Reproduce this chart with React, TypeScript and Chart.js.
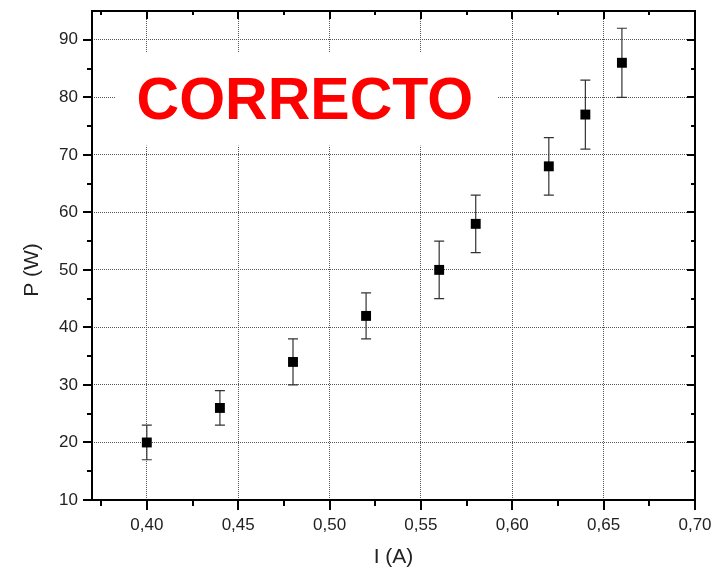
import React, { useEffect, useRef } from 'react';
import { Chart, registerables } from 'chart.js';
Chart.register(...registerables);

const currentA = [0.40, 0.44, 0.48, 0.52, 0.56, 0.58, 0.62, 0.64, 0.66];
const powerW = [20, 26, 34, 42, 50, 58, 68, 77, 86];
const errLow = [17, 23, 30, 38, 45, 53, 63, 71, 80];
const errHigh = [23, 29, 38, 46, 55, 63, 73, 83, 92];
const xTicks = [0.40, 0.45, 0.50, 0.55, 0.60, 0.65, 0.70];
const xMinor = [0.375, 0.425, 0.475, 0.525, 0.575, 0.625, 0.675];
const yTicks = [10, 20, 30, 40, 50, 60, 70, 80, 90];
const yMinor = [15, 25, 35, 45, 55, 65, 75, 85];
const xLabel = 'I (A)';
const yLabel = 'P (W)';
const stampText = 'CORRECTO';

const FONT = 'Arial, "Liberation Sans", sans-serif';

const decor = {
  id: 'decor',
  beforeDatasetsDraw(chart: any) {
    const { ctx, scales } = chart;
    const x = scales.x, y = scales.y;
    ctx.save();
    // white box behind stamp
    const bx0 = x.getPixelForValue(0.3826);
    const bx1 = x.getPixelForValue(0.592);
    const by0 = y.getPixelForValue(87.7);
    const by1 = y.getPixelForValue(71.6);
    ctx.fillStyle = '#ffffff';
    ctx.fillRect(bx0, by0, bx1 - bx0, by1 - by0);
    // stamp text
    ctx.fillStyle = '#ff0000';
    ctx.font = 'bold 59px ' + FONT;
    ctx.textAlign = 'center';
    ctx.textBaseline = 'alphabetic';
    ctx.fillText(stampText, x.getPixelForValue(0.4865), y.getPixelForValue(76.2));
    // error bars
    ctx.strokeStyle = '#333';
    ctx.lineWidth = 1.2;
    for (let i = 0; i < currentA.length; i++) {
      const px = x.getPixelForValue(currentA[i]);
      const pl = y.getPixelForValue(errLow[i]);
      const ph = y.getPixelForValue(errHigh[i]);
      ctx.beginPath();
      ctx.moveTo(px, pl);
      ctx.lineTo(px, ph);
      ctx.moveTo(px - 5, pl);
      ctx.lineTo(px + 5, pl);
      ctx.moveTo(px - 5, ph);
      ctx.lineTo(px + 5, ph);
      ctx.stroke();
    }
    ctx.restore();
  },
  afterDraw(chart: any) {
    const { ctx, chartArea: a, scales } = chart;
    const x = scales.x, y = scales.y;
    ctx.save();
    ctx.strokeStyle = '#000';
    ctx.lineWidth = 2;
    ctx.strokeRect(a.left, a.top, a.right - a.left, a.bottom - a.top);
    ctx.beginPath();
    const xt = (v: number, major: boolean) => {
      const p = Math.round(x.getPixelForValue(v));
      ctx.moveTo(p, a.bottom);
      ctx.lineTo(p, a.bottom + (major ? 10 : 6));
      ctx.moveTo(p, a.top);
      ctx.lineTo(p, a.top + (major ? 8 : 4));
    };
    const yt = (v: number, major: boolean) => {
      const p = Math.round(y.getPixelForValue(v));
      ctx.moveTo(a.left, p);
      ctx.lineTo(a.left - (major ? 9 : 5), p);
      ctx.moveTo(a.right, p);
      ctx.lineTo(a.right - (major ? 8 : 4), p);
    };
    xTicks.forEach(v => xt(v, true));
    xMinor.forEach(v => xt(v, false));
    yTicks.forEach(v => yt(v, true));
    yMinor.forEach(v => yt(v, false));
    ctx.stroke();
    // axis titles
    ctx.fillStyle = '#222';
    ctx.font = '21px ' + FONT;
    ctx.textAlign = 'center';
    ctx.textBaseline = 'middle';
    ctx.fillText(xLabel, (a.left + a.right) / 2, 557);
    ctx.translate(32, 270);
    ctx.rotate(-Math.PI / 2);
    ctx.fillText(yLabel, 0, 0);
    ctx.restore();
  },
};

const zeroPad = (s: any) => {
  s.paddingTop = 0;
  s.paddingBottom = 0;
  s.paddingLeft = 0;
  s.paddingRight = 0;
};

export default function App() {
  const ref = useRef<HTMLCanvasElement | null>(null);
  useEffect(() => {
    if (!ref.current) return;
    const chart = new Chart(ref.current, {
      type: 'scatter',
      data: {
        datasets: [
          {
            data: currentA.map((v, i) => ({ x: v, y: powerW[i] })),
            pointStyle: 'rect',
            pointRadius: 7,
            pointHoverRadius: 7,
            backgroundColor: '#000',
            borderColor: '#000',
            borderWidth: 0,
          },
        ],
      },
      options: {
        animation: false,
        responsive: false,
        devicePixelRatio: 1,
        layout: { padding: { top: 11, right: 19, left: 0, bottom: 0 } },
        plugins: { legend: { display: false }, tooltip: { enabled: false } },
        scales: {
          x: {
            type: 'linear',
            min: 0.37,
            max: 0.70,
            afterBuildTicks: (s: any) => { s.ticks = xTicks.map(v => ({ value: v })); },
            afterFit: (s: any) => { s.height = 71; zeroPad(s); },
            grid: { color: '#555', lineWidth: 1, drawTicks: false },
            border: { display: false, dash: [1, 1] },
            ticks: {
              padding: 15,
              color: '#222',
              font: { family: FONT, size: 17 },
              callback: (v: any) => Number(v).toFixed(2).replace('.', ','),
              maxRotation: 0,
            },
          },
          y: {
            type: 'linear',
            min: 10,
            max: 95,
            afterBuildTicks: (s: any) => { s.ticks = yTicks.map(v => ({ value: v })); },
            afterFit: (s: any) => { s.width = 92; zeroPad(s); },
            grid: { color: '#555', lineWidth: 1, drawTicks: false },
            border: { display: false, dash: [1, 1] },
            ticks: {
              padding: 14,
              color: '#222',
              font: { family: FONT, size: 17 },
              callback: (v: any) => String(v),
            },
          },
        },
      },
      plugins: [decor],
    });
    return () => chart.destroy();
  }, []);
  return (
    <div style={{ position: 'fixed', left: 0, top: 0, width: 714, height: 571, background: '#fff' }}>
      <canvas ref={ref} width={714} height={571} style={{ display: 'block' }} />
    </div>
  );
}
